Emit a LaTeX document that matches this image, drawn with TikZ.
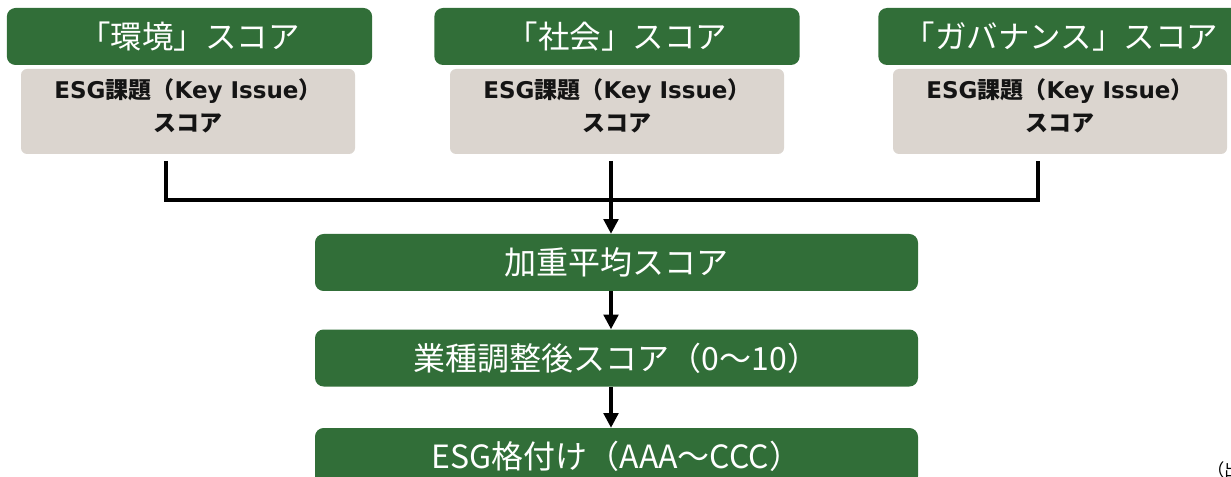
\documentclass[tikz,border=0pt]{standalone}
\usepackage{fontspec}
\newfontfamily\jp{Noto Sans CJK JP}
\newfontfamily\dv{DejaVu Sans}
\usetikzlibrary{arrows.meta}
\definecolor{ggreen}{HTML}{316E38}
\definecolor{ggray}{HTML}{DBD5CF}
\begin{document}
\begin{tikzpicture}[x=0.75pt,y=-0.75pt,
  topbox/.style={fill=ggreen, rounded corners=6.5pt, minimum width=274pt, minimum height=42.75pt, inner sep=0pt, text=white, font=\jp\fontsize{23.6}{27}\selectfont},
  graybox/.style={fill=ggray, rounded corners=4.5pt, minimum width=250.5pt, minimum height=63.75pt, inner sep=0pt},
  graytext/.style={align=center, inner sep=0pt, text=black!92, font=\jp\bfseries\fontsize{17.25}{24.75}\selectfont},
  midbox/.style={fill=ggreen, rounded corners=6.5pt, minimum width=452.25pt, minimum height=42.75pt, inner sep=0pt, text=white, font=\jp\fontsize{24}{27}\selectfont},
  conn/.style={line width=2.4pt, line join=miter, black},
  arr/.style={conn, -{Triangle[width=11pt,length=11pt]}}
]
\useasboundingbox (0,0) rectangle (1231,477);

% top score boxes
\node[topbox] (t1) at (189.5,36.5) {「環境」スコア};
\node[topbox] (t2) at (617,36.5) {「社会」スコア};
\node[topbox] (t3) at (1061,36.5) {「ガバナンス」スコア};

% key issue boxes
\node[graybox] (g1) at (188,111.5) {};
\node[graybox] (g2) at (617,111.5) {};
\node[graybox] (g3) at (1060,111.5) {};
\node[graytext] (k1) at (188,106) {{\dv ESG}課題（{\dv Key Issue}）\\スコア};
\node[graytext] (k2) at (617,106) {{\dv ESG}課題（{\dv Key Issue}）\\スコア};
\node[graytext] (k3) at (1060,106) {{\dv ESG}課題（{\dv Key Issue}）\\スコア};

% lower flow boxes
\node[midbox] (m1) at (616.5,262.5) {加重平均スコア};
\node[midbox] (m2) at (616.5,358) {業種調整後スコア（0～10）};
\node[midbox] (m3) at (616.5,456.5) {ESG格付け（AAA～CCC）};

% connectors
\coordinate (c1) at (166,161);
\coordinate (c2) at (611,161);
\coordinate (c3) at (1038,161);
\coordinate (bar) at (611,200);
\draw[conn] (c1) -- (c1 |- bar) -- (c3 |- bar) -- (c3);
\draw[arr] (c2) -- (c2 |- m1.north);
\draw[arr] (m1.south -| c2) -- (m2.north -| c2);
\draw[arr] (m2.south -| c2) -- (m3.north -| c2);

% source note (cut off at the edge, as in the reference)
\node[anchor=west, inner sep=0pt, font=\jp\fontsize{13}{15}\selectfont] (src) at (1207,470) {（出};
\end{tikzpicture}
\end{document}
